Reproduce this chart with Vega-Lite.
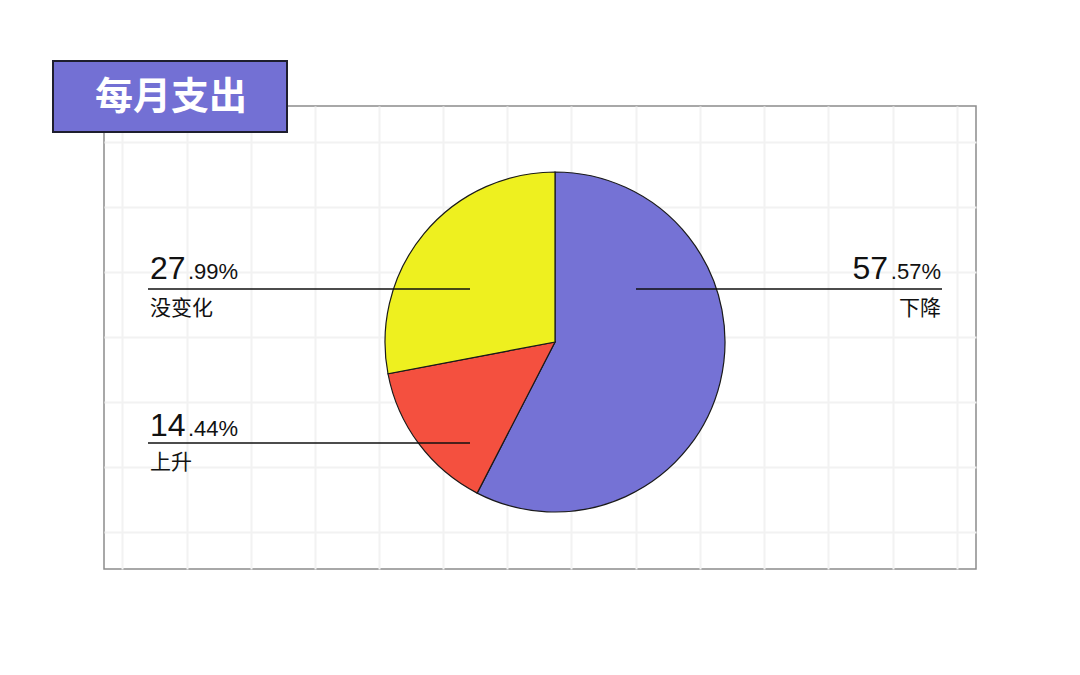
{
  "$schema": "https://vega.github.io/schema/vega-lite/v6.json",
  "width": 872,
  "height": 463,
  "padding": {"left": 104, "top": 106, "right": 104, "bottom": 106},
  "autosize": {"type": "none"},
  "background": "#ffffff",
  "view": {"stroke": "#8c8c8c", "strokeWidth": 1.5},
  "config": {"axis": {"domain": false, "ticks": false, "labels": false}},
  "resolve": {"axis": {"x": "independent", "y": "independent"}},
  "data": {"values": [
    {"name": "下降", "value": 57.57},
    {"name": "上升", "value": 14.44},
    {"name": "没变化", "value": 27.99}
  ]},
  "transform": [
    {"window": [{"op": "row_number", "as": "idx"}]},
    {"calculate": "floor(datum.value)", "as": "ip"},
    {"calculate": "slice(format(datum.value, '.2f'), -3) + '%'", "as": "dp"}
  ],
  "layer": [
    {
      "data": {"values": [{"label": "每月支出"}]},
      "mark": {"type": "rect", "fill": "#7370d4", "stroke": "#1e1e2e", "strokeWidth": 2},
      "encoding": {
        "x": {"datum": 53, "type": "quantitative", "scale": {"domain": [104, 976], "nice": false, "zero": false},
              "axis": {"values": [122, 187, 251, 315, 379, 443, 507, 571, 636, 700, 764, 828, 893, 957], "grid": true, "gridColor": "#f2f2f2", "gridWidth": 2, "title": null, "labels": false, "ticks": false, "domain": false}},
        "x2": {"datum": 287},
        "y": {"datum": 61, "type": "quantitative", "scale": {"domain": [106, 569], "nice": false, "zero": false, "reverse": true},
              "axis": {"values": [142, 207, 272, 337, 402, 467, 532], "grid": true, "gridColor": "#f2f2f2", "gridWidth": 2, "title": null, "labels": false, "ticks": false, "domain": false}},
        "y2": {"datum": 132}
      }
    },
    {
      "data": {"values": [{"label": "每月支出"}]},
      "mark": {"type": "text", "font": "Noto Sans CJK SC", "fontWeight": "bold", "fontSize": 38, "color": "#ffffff", "align": "center", "baseline": "middle"},
      "encoding": {
        "x": {"datum": 171, "type": "quantitative", "axis": null},
        "y": {"datum": 98, "type": "quantitative", "axis": null},
        "text": {"field": "label"}
      }
    },
    {
      "mark": {"type": "arc", "outerRadius": 170, "stroke": "#1a1a1a", "strokeWidth": 1.2},
      "encoding": {
        "theta": {"field": "value", "type": "quantitative", "stack": true},
        "order": {"field": "idx", "type": "quantitative"},
        "color": {"field": "name", "type": "nominal", "scale": {"domain": ["下降", "上升", "没变化"], "range": ["#7572d5", "#f4503f", "#eef01f"]}, "legend": null},
        "x": {"datum": 555, "type": "quantitative", "axis": null},
        "y": {"datum": 342, "type": "quantitative", "axis": null}
      }
    },
    {
      "transform": [{"filter": "datum.name == '没变化'"}],
      "mark": {"type": "rule", "color": "#111111", "strokeWidth": 1.3},
      "encoding": {
        "x": {"datum": 148, "type": "quantitative", "axis": null},
        "x2": {"datum": 470},
        "y": {"datum": 289, "type": "quantitative", "axis": null}
      }
    },
    {
      "transform": [{"filter": "datum.name == '没变化'"}],
      "mark": {"type": "text", "font": "Liberation Sans", "fontSize": 32, "color": "#111111", "align": "left", "baseline": "alphabetic"},
      "encoding": {
        "x": {"datum": 150, "type": "quantitative", "axis": null},
        "y": {"datum": 279, "type": "quantitative", "axis": null},
        "text": {"field": "ip", "type": "quantitative", "format": "d"}
      }
    },
    {
      "transform": [{"filter": "datum.name == '没变化'"}],
      "mark": {"type": "text", "font": "Liberation Sans", "fontSize": 22, "color": "#111111", "align": "left", "baseline": "alphabetic"},
      "encoding": {
        "x": {"datum": 188, "type": "quantitative", "axis": null},
        "y": {"datum": 279, "type": "quantitative", "axis": null},
        "text": {"field": "dp"}
      }
    },
    {
      "transform": [{"filter": "datum.name == '没变化'"}],
      "mark": {"type": "text", "font": "Noto Sans CJK SC", "fontSize": 21, "color": "#111111", "align": "left", "baseline": "middle"},
      "encoding": {
        "x": {"datum": 150, "type": "quantitative", "axis": null},
        "y": {"datum": 309, "type": "quantitative", "axis": null},
        "text": {"field": "name"}
      }
    },
    {
      "transform": [{"filter": "datum.name == '上升'"}],
      "mark": {"type": "rule", "color": "#111111", "strokeWidth": 1.3},
      "encoding": {
        "x": {"datum": 148, "type": "quantitative", "axis": null},
        "x2": {"datum": 470},
        "y": {"datum": 443, "type": "quantitative", "axis": null}
      }
    },
    {
      "transform": [{"filter": "datum.name == '上升'"}],
      "mark": {"type": "text", "font": "Liberation Sans", "fontSize": 32, "color": "#111111", "align": "left", "baseline": "alphabetic"},
      "encoding": {
        "x": {"datum": 150, "type": "quantitative", "axis": null},
        "y": {"datum": 436, "type": "quantitative", "axis": null},
        "text": {"field": "ip", "type": "quantitative", "format": "d"}
      }
    },
    {
      "transform": [{"filter": "datum.name == '上升'"}],
      "mark": {"type": "text", "font": "Liberation Sans", "fontSize": 22, "color": "#111111", "align": "left", "baseline": "alphabetic"},
      "encoding": {
        "x": {"datum": 188, "type": "quantitative", "axis": null},
        "y": {"datum": 436, "type": "quantitative", "axis": null},
        "text": {"field": "dp"}
      }
    },
    {
      "transform": [{"filter": "datum.name == '上升'"}],
      "mark": {"type": "text", "font": "Noto Sans CJK SC", "fontSize": 21, "color": "#111111", "align": "left", "baseline": "middle"},
      "encoding": {
        "x": {"datum": 150, "type": "quantitative", "axis": null},
        "y": {"datum": 463, "type": "quantitative", "axis": null},
        "text": {"field": "name"}
      }
    },
    {
      "transform": [{"filter": "datum.name == '下降'"}],
      "mark": {"type": "rule", "color": "#111111", "strokeWidth": 1.3},
      "encoding": {
        "x": {"datum": 636, "type": "quantitative", "axis": null},
        "x2": {"datum": 942},
        "y": {"datum": 289, "type": "quantitative", "axis": null}
      }
    },
    {
      "transform": [{"filter": "datum.name == '下降'"}],
      "mark": {"type": "text", "font": "Liberation Sans", "fontSize": 32, "color": "#111111", "align": "right", "baseline": "alphabetic"},
      "encoding": {
        "x": {"datum": 888, "type": "quantitative", "axis": null},
        "y": {"datum": 279, "type": "quantitative", "axis": null},
        "text": {"field": "ip", "type": "quantitative", "format": "d"}
      }
    },
    {
      "transform": [{"filter": "datum.name == '下降'"}],
      "mark": {"type": "text", "font": "Liberation Sans", "fontSize": 22, "color": "#111111", "align": "right", "baseline": "alphabetic"},
      "encoding": {
        "x": {"datum": 941, "type": "quantitative", "axis": null},
        "y": {"datum": 279, "type": "quantitative", "axis": null},
        "text": {"field": "dp"}
      }
    },
    {
      "transform": [{"filter": "datum.name == '下降'"}],
      "mark": {"type": "text", "font": "Noto Sans CJK SC", "fontSize": 21, "color": "#111111", "align": "right", "baseline": "middle"},
      "encoding": {
        "x": {"datum": 941, "type": "quantitative", "axis": null},
        "y": {"datum": 309, "type": "quantitative", "axis": null},
        "text": {"field": "name"}
      }
    }
  ]
}
